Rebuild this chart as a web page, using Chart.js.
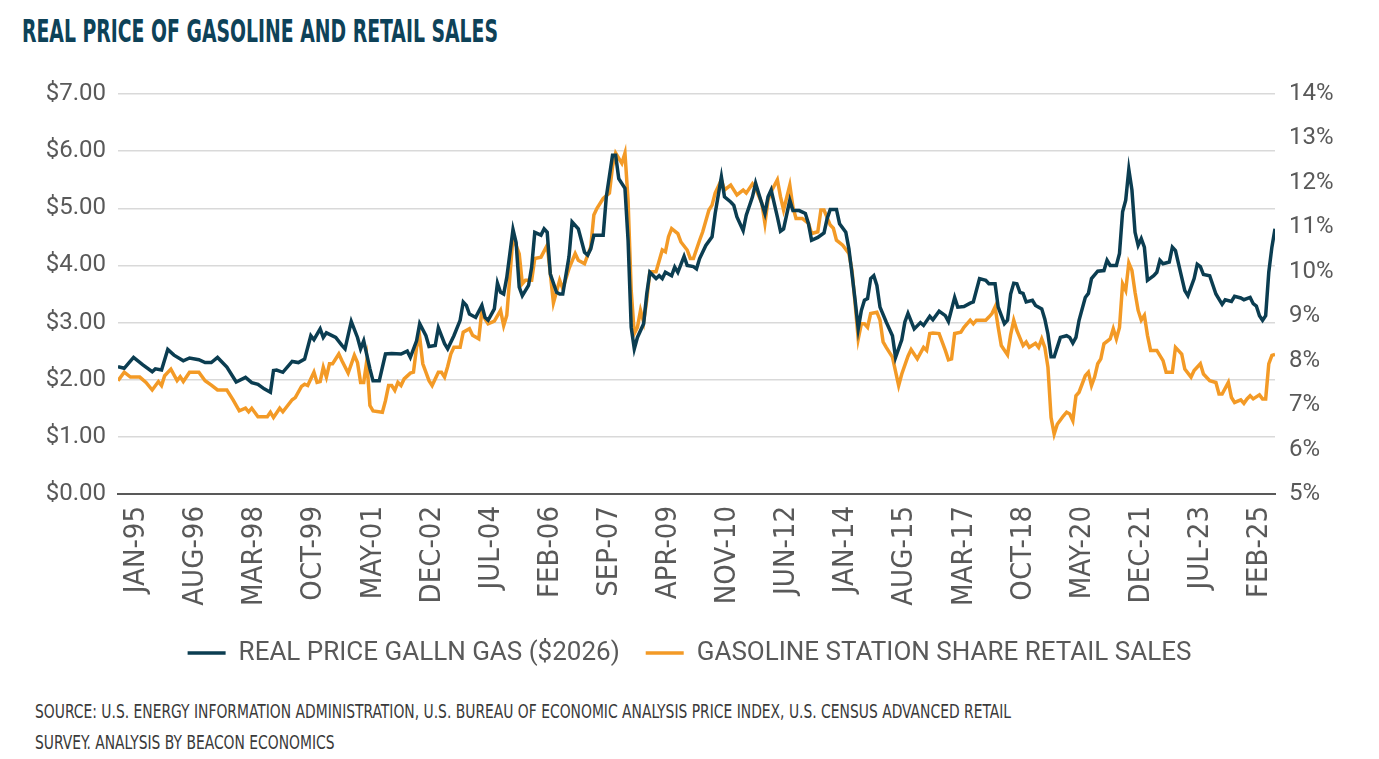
<!DOCTYPE html>
<html>
<head>
<meta charset="utf-8">
<script src="https://cdn.jsdelivr.net/npm/chart.js@4.4.1/dist/chart.umd.min.js"></script>
<style>
  html, body { margin: 0; padding: 0; background: #ffffff; width: 1379px; height: 759px; overflow: hidden; }
  #title { position: absolute; left: 22px; top: 12px; font-family: "Liberation Sans Narrow", "DejaVu Sans Condensed", sans-serif; font-weight: bold; font-size: 32px; color: #0e4258; white-space: nowrap; transform-origin: 0 0; letter-spacing: 0px; }
  .src { position: absolute; left: 35px; font-family: "Liberation Sans Narrow", "DejaVu Sans Condensed", sans-serif; font-size: 19px; color: #3a3a3a; white-space: nowrap; transform-origin: 0 0; }
  #wrap { position: absolute; left: 0; top: 0; width: 1379px; height: 700px; }
</style>
</head>
<body>
<div id="title">REAL PRICE OF GASOLINE AND RETAIL SALES</div>
<div id="wrap"><canvas id="c" width="1379" height="700"></canvas></div>
<div class="src" id="src1" style="top:700px;">SOURCE: U.S. ENERGY INFORMATION ADMINISTRATION, U.S. BUREAU OF ECONOMIC ANALYSIS PRICE INDEX, U.S. CENSUS ADVANCED RETAIL</div>
<div class="src" id="src2" style="top:731px;">SURVEY. ANALYSIS BY BEACON ECONOMICS</div>
<script>
// Months counted from the first observation (month 0); tick labels every 19 months
const tickMonths = [6, 25, 44, 63, 82, 101, 120, 139, 158, 177, 196, 215, 234, 253, 272, 291, 310, 329, 348, 367];
const tickLabels = ['JAN-95','AUG-96','MAR-98','OCT-99','MAY-01','DEC-02','JUL-04','FEB-06','SEP-07','APR-09','NOV-10','JUN-12','JAN-14','AUG-15','MAR-17','OCT-18','MAY-20','DEC-21','JUL-23','FEB-25'];

// [month, real price per gallon ($2026)]
const gasPrice = [[0,2.23],[2,2.20],[5,2.39],[8,2.26],[11,2.14],[12,2.19],[14,2.17],[16,2.53],[18,2.43],[21,2.33],[23,2.38],[26,2.35],[28,2.30],[30,2.30],[32,2.39],[35,2.22],[38,1.96],[41,2.04],[43,1.95],[45,1.92],[47,1.84],[49,1.78],[50,2.16],[51,2.17],[53,2.13],[56,2.32],[58,2.30],[60,2.36],[62,2.77],[63,2.70],[65,2.89],[66,2.74],[67,2.82],[70,2.74],[72,2.60],[73,2.54],[75,3.02],[77,2.74],[78,2.54],[79,2.68],[81,2.19],[82,1.98],[84,1.98],[86,2.45],[88,2.46],[91,2.45],[93,2.50],[94,2.39],[96,2.68],[97,2.98],[99,2.77],[100,2.58],[102,2.60],[103,2.91],[105,2.63],[106,2.54],[108,2.77],[110,3.04],[111,3.36],[112,3.30],[113,3.15],[115,3.09],[117,3.30],[118,3.09],[119,3.04],[121,3.24],[122,3.69],[123,3.53],[124,3.50],[125,3.79],[127,4.63],[128,4.40],[129,3.62],[130,3.47],[132,3.65],[133,3.97],[134,4.58],[136,4.53],[137,4.64],[138,4.58],[139,3.85],[141,3.53],[142,3.50],[143,3.50],[145,4.15],[146,4.76],[148,4.64],[150,4.23],[151,4.18],[152,4.29],[153,4.53],[155,4.53],[156,4.53],[157,5.20],[159,5.93],[160,5.93],[161,5.52],[163,5.35],[164,4.44],[165,2.92],[166,2.54],[167,2.74],[169,2.98],[170,3.50],[171,3.88],[173,3.77],[174,3.82],[175,3.77],[176,3.88],[178,3.82],[179,3.97],[180,3.88],[182,4.16],[183,4.00],[185,3.98],[186,3.94],[187,4.12],[189,4.35],[191,4.50],[192,4.91],[194,5.55],[195,5.20],[197,5.11],[198,5.05],[199,4.85],[201,4.61],[202,4.88],[204,5.20],[205,5.44],[206,5.26],[208,4.91],[209,5.20],[210,5.32],[212,4.85],[213,4.60],[214,4.64],[216,5.14],[217,4.96],[219,4.96],[221,4.91],[222,4.73],[223,4.44],[225,4.49],[227,4.57],[228,4.82],[229,4.98],[231,4.98],[232,4.73],[234,4.58],[235,4.29],[236,3.85],[237,3.39],[238,2.89],[239,3.21],[240,3.39],[241,3.42],[242,3.77],[243,3.82],[244,3.65],[245,3.27],[247,3.01],[249,2.77],[250,2.39],[252,2.70],[253,3.01],[254,3.16],[256,2.89],[258,3.00],[259,2.95],[261,3.11],[262,3.05],[264,3.20],[266,3.12],[267,3.02],[269,3.44],[270,3.27],[272,3.28],[274,3.34],[275,3.36],[277,3.77],[279,3.74],[280,3.68],[282,3.68],[283,3.27],[285,2.98],[286,3.04],[287,3.50],[288,3.69],[289,3.68],[290,3.53],[291,3.51],[292,3.36],[294,3.39],[295,3.30],[297,3.24],[298,3.06],[299,2.80],[300,2.40],[301,2.40],[302,2.57],[303,2.74],[305,2.77],[306,2.74],[307,2.64],[308,2.74],[309,3.04],[311,3.44],[312,3.51],[313,3.77],[315,3.90],[317,3.91],[318,4.09],[319,4.00],[321,4.00],[322,4.21],[323,4.94],[324,5.14],[325,5.68],[326,5.32],[327,4.58],[328,4.35],[329,4.47],[330,4.32],[331,3.74],[333,3.82],[334,3.88],[335,4.09],[336,4.03],[338,4.06],[339,4.32],[340,4.26],[342,3.79],[343,3.56],[344,3.47],[346,3.77],[347,4.02],[348,3.98],[349,3.84],[351,3.82],[353,3.50],[355,3.32],[356,3.40],[358,3.37],[359,3.46],[361,3.43],[362,3.40],[364,3.44],[365,3.33],[366,3.29],[367,3.12],[368,3.04],[369,3.12],[370,3.88],[371,4.32],[372,4.64]];

// [month, gasoline station share of retail sales (%)]
const stationShare = [[0,7.55],[2,7.74],[4,7.63],[7,7.63],[9,7.51],[11,7.34],[13,7.53],[14,7.44],[15,7.66],[17,7.81],[19,7.55],[20,7.64],[21,7.53],[23,7.74],[26,7.74],[28,7.55],[30,7.45],[32,7.34],[35,7.34],[37,7.12],[39,6.87],[41,6.93],[42,6.85],[43,6.93],[45,6.74],[48,6.74],[49,6.84],[50,6.72],[52,6.93],[53,6.85],[56,7.12],[57,7.17],[59,7.42],[60,7.47],[61,7.44],[63,7.74],[64,7.51],[65,7.53],[66,7.85],[67,7.63],[68,7.93],[69,7.93],[71,8.15],[72,8.00],[74,7.72],[76,8.12],[77,7.96],[78,7.51],[79,7.51],[80,8.00],[81,6.99],[82,6.87],[85,6.84],[86,7.10],[87,7.44],[88,7.44],[89,7.33],[90,7.51],[91,7.44],[92,7.59],[94,7.72],[95,7.74],[96,8.30],[97,8.53],[98,7.93],[100,7.55],[101,7.44],[103,7.74],[104,7.74],[105,7.63],[106,7.87],[107,8.15],[108,8.30],[110,8.30],[111,8.64],[113,8.72],[114,8.57],[116,8.49],[117,9.13],[118,8.94],[119,8.83],[121,8.89],[123,9.13],[124,8.79],[125,9.02],[127,10.79],[129,10.40],[130,9.73],[131,9.81],[133,9.81],[134,10.30],[136,10.33],[138,10.60],[139,9.96],[140,9.30],[142,9.81],[143,9.62],[145,10.07],[147,10.41],[148,10.26],[150,10.18],[152,10.56],[153,11.28],[154,11.43],[156,11.65],[158,11.77],[159,12.37],[160,12.67],[162,12.44],[163,12.67],[164,11.61],[165,9.58],[166,8.61],[167,8.75],[168,9.13],[169,8.87],[170,9.36],[171,10.00],[173,10.00],[175,10.49],[176,10.45],[177,10.79],[178,10.97],[180,10.86],[181,10.67],[183,10.49],[184,10.30],[185,10.30],[187,10.71],[188,10.90],[190,11.39],[191,11.50],[192,11.77],[194,12.07],[195,11.84],[197,11.95],[199,11.73],[201,11.84],[202,11.77],[204,11.98],[205,11.88],[207,11.54],[208,11.09],[209,11.61],[210,11.80],[212,12.07],[213,11.69],[214,11.39],[216,11.95],[217,11.46],[218,11.20],[220,11.20],[222,11.09],[223,10.86],[225,10.90],[226,11.39],[227,11.39],[229,11.05],[230,10.98],[231,10.71],[233,10.60],[235,10.41],[236,10.03],[237,9.28],[238,8.49],[239,8.83],[240,8.83],[241,8.75],[242,9.06],[244,9.09],[245,8.91],[246,8.42],[247,8.30],[249,8.08],[251,7.44],[252,7.70],[254,8.10],[255,8.25],[257,8.04],[259,8.30],[260,8.23],[261,8.61],[262,8.62],[264,8.61],[266,8.23],[267,8.02],[268,8.04],[269,8.61],[271,8.64],[272,8.75],[274,8.91],[275,8.83],[276,8.91],[279,8.91],[280,8.98],[281,9.06],[282,9.21],[283,8.75],[284,8.34],[286,8.13],[287,8.58],[288,8.91],[289,8.68],[291,8.34],[292,8.42],[293,8.30],[295,8.39],[296,8.30],[297,8.49],[298,8.30],[299,7.85],[300,6.72],[301,6.35],[302,6.57],[304,6.76],[305,6.84],[306,6.80],[307,6.65],[308,7.21],[309,7.29],[311,7.66],[312,7.74],[313,7.44],[314,7.63],[315,7.93],[316,8.04],[317,8.38],[319,8.49],[320,8.72],[321,8.49],[322,8.75],[323,9.73],[324,9.58],[325,10.20],[326,10.03],[327,9.54],[328,9.13],[329,8.91],[330,9.02],[331,8.57],[332,8.23],[334,8.23],[336,8.00],[337,7.74],[339,7.74],[340,8.30],[342,8.15],[343,7.81],[345,7.63],[346,7.78],[348,7.93],[349,7.70],[351,7.55],[353,7.51],[354,7.25],[355,7.25],[357,7.51],[358,7.17],[359,7.06],[361,7.12],[362,7.04],[363,7.14],[364,7.21],[365,7.14],[367,7.23],[368,7.14],[369,7.14],[370,7.93],[371,8.12],[372,8.14]];

const seriesNames = ['REAL PRICE GALLN GAS ($2026)', 'GASOLINE STATION SHARE RETAIL SALES'];

// fit HTML texts horizontally
function fitWidth(el, target) {
  const w = el.getBoundingClientRect().width;
  const s = target / w;
  el.style.transform = 'scaleX(' + s + ')';
  return s;
}
fitWidth(document.getElementById('title'), 476);
const s1 = fitWidth(document.getElementById('src1'), 976);
document.getElementById('src2').style.transform = 'scaleX(' + s1 + ')';

const NAVY = '#0b3d51';
const ORANGE = '#f39a26';
const GRAY = '#595959';

new Chart(document.getElementById('c'), {
  type: 'line',
  data: {
    datasets: [
      { label: seriesNames[0], data: gasPrice.map(p => ({x: p[0], y: p[1]})), yAxisID: 'y',
        borderColor: NAVY, backgroundColor: NAVY, borderWidth: 3.5, pointRadius: 0, tension: 0 },
      { label: seriesNames[1], data: stationShare.map(p => ({x: p[0], y: p[1]})), yAxisID: 'y1',
        borderColor: ORANGE, backgroundColor: ORANGE, borderWidth: 3.5, pointRadius: 0, tension: 0 }
    ]
  },
  options: {
    responsive: false,
    animation: false,
    layout: { padding: { top: 94, bottom: 24, left: 0, right: 0 } },
    plugins: {
      tooltip: { enabled: false },
      legend: {
        position: 'bottom',
        labels: {
          usePointStyle: true, pointStyle: 'line', pointStyleWidth: 38, boxHeight: 4,
          padding: 26, color: GRAY,
          font: { family: 'Roboto', size: 26 }
        }
      }
    },
    scales: {
      x: {
        type: 'linear', min: 0, max: 372,
        afterBuildTicks: (scale) => { scale.ticks = tickMonths.map(v => ({ value: v })); },
        afterFit: (scale) => { scale.height = 120; },
        grid: { display: false, drawTicks: false },
        border: { display: true, color: GRAY, width: 2 },
        ticks: {
          autoSkip: false, minRotation: 90, maxRotation: 90, padding: 12, color: GRAY,
          font: { family: '"Liberation Sans Narrow", "DejaVu Sans Condensed", sans-serif', size: 29 },
          callback: (v) => { const i = tickMonths.indexOf(v); return i >= 0 ? tickLabels[i] : ''; }
        }
      },
      y: {
        position: 'left', min: 0, max: 7,
        afterFit: (scale) => { scale.width = 118; },
        grid: { color: '#d9d9d9', lineWidth: 1.5, drawTicks: false },
        border: { display: false },
        ticks: { stepSize: 1, padding: 12, color: GRAY, font: { family: 'Roboto', size: 24 },
          callback: (v) => '$' + Number(v).toFixed(2) }
      },
      y1: {
        position: 'right', min: 5, max: 14,
        afterFit: (scale) => { scale.width = 104; },
        grid: { display: false, drawTicks: false },
        border: { display: false },
        ticks: { stepSize: 1, padding: 14, color: GRAY, font: { family: 'Roboto', size: 24 },
          callback: (v) => v + '%' }
      }
    }
  }
});
</script>
</body>
</html>
